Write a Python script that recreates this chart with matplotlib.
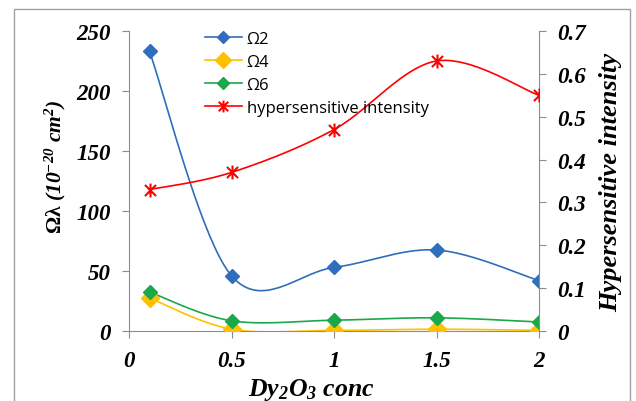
import numpy as np
import matplotlib
matplotlib.use("Agg")
import matplotlib.pyplot as plt
from matplotlib.lines import Line2D
from matplotlib.patches import Rectangle
from matplotlib.path import Path

plt.rcParams['mathtext.fontset'] = 'custom'
plt.rcParams['mathtext.rm'] = 'Liberation Serif:bold:italic'
plt.rcParams['mathtext.it'] = 'Liberation Serif:bold:italic'
plt.rcParams['mathtext.bf'] = 'Liberation Serif:bold'

conc = [0.1, 0.5, 1.0, 1.5, 2.0]
omega2 = [233, 46, 53, 67.5, 42]
omega4 = [27.5, 1.5, 0.5, 1.5, 0.5]
omega6 = [32.5, 8.5, 9, 11, 7.5]
hyper = [0.33, 0.37, 0.47, 0.63, 0.55]

xticks = [0, 0.5, 1, 1.5, 2]
xticklabels = ['0', '0.5', '1', '1.5', '2']
yticks = [0, 50, 100, 150, 200, 250]
y2ticks = [0, 0.1, 0.2, 0.3, 0.4, 0.5, 0.6, 0.7]
y2ticklabels = ['0', '0.1', '0.2', '0.3', '0.4', '0.5', '0.6', '0.7']


def smooth(x, y, n=40):
    x = np.asarray(x, float); y = np.asarray(y, float)
    P = np.column_stack([x, y])
    out = []
    for i in range(len(P) - 1):
        p0 = P[i - 1] if i > 0 else P[i]
        p1 = P[i]; p2 = P[i + 1]
        p3 = P[i + 2] if i + 2 < len(P) else P[i + 1]
        c1 = p1 + (p2 - p0) / 6.0
        c2 = p2 - (p3 - p1) / 6.0
        t = np.linspace(0, 1, n)[:, None]
        seg = ((1 - t) ** 3) * p1 + 3 * ((1 - t) ** 2) * t * c1 + 3 * (1 - t) * t ** 2 * c2 + t ** 3 * p2
        out.append(seg if i == 0 else seg[1:])
    s = np.vstack(out)
    return s[:, 0], s[:, 1]


# star marker: X plus vertical bar
star = Path([(-1, -1), (1, 1), (-1, 1), (1, -1), (0, -1.25), (0, 1.25)],
            [Path.MOVETO, Path.LINETO, Path.MOVETO, Path.LINETO, Path.MOVETO, Path.LINETO])

W, H = 636, 402
fig = plt.figure(figsize=(W / 100, H / 100), dpi=100)
ax = fig.add_axes([129 / W, 1 - 332 / H, (539 - 129) / W, 300 / H])
ax2 = ax.twinx()

fig.patches.append(Rectangle((14 / W, -0.1), (630 - 14) / W, 1.1 - 10 / H,
                             transform=fig.transFigure, fill=False,
                             edgecolor='#a0a0a0', linewidth=1.0))

c2, c4, c6, cr = '#2F6EBA', '#FFC000', '#1AA84A', '#FF0000'
sizes = {c2: 7, c4: 9, c6: 7}

for vals, col in [(omega2, c2), (omega4, c4), (omega6, c6)]:
    sx, sy = smooth(conc, vals)
    ax.plot(sx, sy, color=col, lw=1.2, zorder=3)
    ax.plot(conc, vals, ls='none', marker='D', ms=sizes[col], color=col, zorder=4)

sx, sy = smooth(conc, hyper)
ax2.plot(sx, sy, color=cr, lw=1.2, zorder=3)
ax2.plot(conc, hyper, ls='none', marker=star, ms=10, mew=1.5, color=cr, zorder=4)

ax.set_xlim(0, 2)
ax.set_ylim(0, 250)
ax2.set_ylim(0, 0.7)

tickfont = dict(family='Liberation Serif', weight='bold', style='italic', size=16.5)
ax.set_xticks(xticks)
ax.set_xticklabels(xticklabels, **tickfont)
ax.set_yticks(yticks)
ax.set_yticklabels([str(v) for v in yticks], **tickfont)
ax2.set_yticks(y2ticks)
ax2.set_yticklabels(y2ticklabels, **tickfont)

grey = '#8c8c8c'
for a in (ax, ax2):
    for s in a.spines.values():
        s.set_visible(False)
ax.spines['left'].set_visible(True)
ax.spines['left'].set_color(grey)
ax.spines['bottom'].set_visible(True)
ax.spines['bottom'].set_color(grey)
ax2.spines['right'].set_visible(True)
ax2.spines['right'].set_color(grey)
ax.tick_params(axis='y', length=5, color=grey, pad=8)
ax.tick_params(axis='x', length=5, color=grey, pad=9)
ax2.tick_params(axis='y', length=5, color=grey, pad=8)

ax.set_ylabel(r'$\mathbf{\Omega\lambda}$ (10$^{-20}$ cm$^{2}$)', family='Liberation Serif',
              weight='bold', style='italic', size=15.5)
ax.yaxis.set_label_coords(-0.149, 0.55)
ax2.set_ylabel('Hypersensitive intensity', family='Liberation Serif',
               weight='bold', style='italic', size=19)
ax2.yaxis.set_label_coords(1.146, 0.5)
ax.set_xlabel(r'Dy$_{2}$O$_{3}$ conc', family='Liberation Serif',
              weight='bold', style='italic', size=18.5)
ax.xaxis.set_label_coords(0.445, -0.15)

h2 = Line2D([], [], color=c2, marker='D', ms=6.5, lw=1.2)
h4 = Line2D([], [], color=c4, marker='D', ms=8, lw=1.2)
h6 = Line2D([], [], color=c6, marker='D', ms=6.5, lw=1.2)
hr = Line2D([], [], color=cr, marker=star, ms=8.5, mew=1.5, lw=1.2)
leg = ax2.legend([h2, h4, h6, hr], ['Ω2', 'Ω4', 'Ω6', 'hypersensitive intensity'],
                 loc='upper left', bbox_to_anchor=(0.185, 1.0), frameon=False,
                 prop=dict(family='Open Sans', size=12), handlelength=2.2,
                 handletextpad=0.3, labelspacing=0.42, borderaxespad=0, borderpad=0)
leg.set_zorder(5)

fig.savefig('out.png', dpi=100)
